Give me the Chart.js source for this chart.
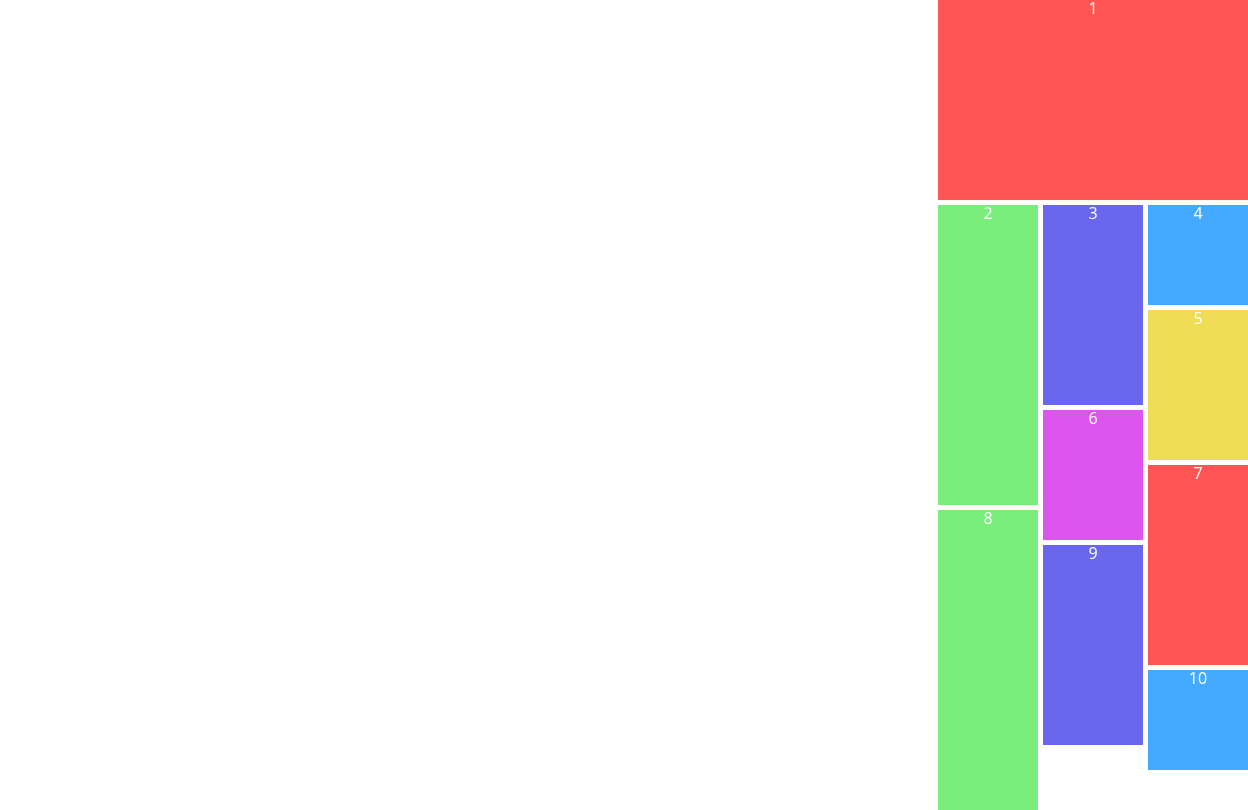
<!DOCTYPE html>
<html>
<head>
<meta charset="utf-8">
<style>
  html, body { margin: 0; padding: 0; background: #ffffff; overflow: hidden; }
  #wrap { width: 1248px; height: 810px; }
</style>
<script src="https://cdn.jsdelivr.net/npm/chart.js@4/dist/chart.umd.min.js"></script>
</head>
<body>
<div id="wrap"><canvas id="c" width="1248" height="810"></canvas></div>
<script>
// ---- data ----
const labels  = ['1', '2', '3', '4', '5', '6', '7', '8', '9', '10'];
const heights = [200, 300, 200, 100, 150, 130, 200, 300, 200, 100];
const spans   = [3, 1, 1, 1, 1, 1, 1, 1, 1, 1];
const colors  = ['#ff5555', '#7aee7a', '#6a67ee', '#44aaff', '#eedd55',
                 '#dd55ee', '#ff5555', '#7aee7a', '#6a67ee', '#44aaff'];

// ---- masonry layout (in scale units) ----
const COLS = 3, COL_W = 100, GAP = 5, VIEW_W = 1248, VIEW_H = 810;
const gridW = COLS * COL_W + (COLS - 1) * GAP;
const originX = VIEW_W - gridW;
const colTops = new Array(COLS).fill(0);
const placed = labels.map((lab, i) => {
  const s = spans[i];
  let best = 0, bestTop = Infinity;
  for (let c = 0; c + s <= COLS; c++) {
    const t = Math.max(...colTops.slice(c, c + s));
    if (t < bestTop) { bestTop = t; best = c; }
  }
  const w = s * COL_W + (s - 1) * GAP;
  const cx = originX + best * (COL_W + GAP) + w / 2;
  for (let c = best; c < best + s; c++) colTops[c] = bestTop + heights[i] + GAP;
  return { cx, w, top: bestTop, bottom: bestTop + heights[i] };
});

const datasets = placed.map((p, i) => ({
  label: labels[i],
  data: [{ x: p.cx, y: [p.top, p.bottom] }],
  backgroundColor: colors[i],
  borderWidth: 0,
  inflateAmount: 0,
  barThickness: p.w,
  maxBarThickness: p.w,
  grouped: false
}));

const labelPlugin = {
  id: 'cellLabels',
  afterDatasetsDraw(chart) {
    const ctx = chart.ctx;
    ctx.save();
    ctx.fillStyle = '#ffffff';
    ctx.font = '16px "Open Sans", "DejaVu Sans", sans-serif';
    ctx.textAlign = 'center';
    ctx.textBaseline = 'middle';
    chart.data.datasets.forEach((ds, i) => {
      const el = chart.getDatasetMeta(i).data[0];
      if (!el) return;
      const top = Math.min(el.y, el.base);
      ctx.fillText(ds.label, el.x, top + 9);
    });
    ctx.restore();
  }
};

new Chart(document.getElementById('c'), {
  type: 'bar',
  data: { datasets },
  options: {
    responsive: false,
    animation: false,
    layout: { padding: 0 },
    plugins: { legend: { display: false }, tooltip: { enabled: false } },
    scales: {
      x: { type: 'linear', min: 0, max: VIEW_W, offset: false, grid: { offset: false }, display: false },
      y: { type: 'linear', min: 0, max: VIEW_H, reverse: true, display: false }
    }
  },
  plugins: [labelPlugin]
});
</script>
</body>
</html>
